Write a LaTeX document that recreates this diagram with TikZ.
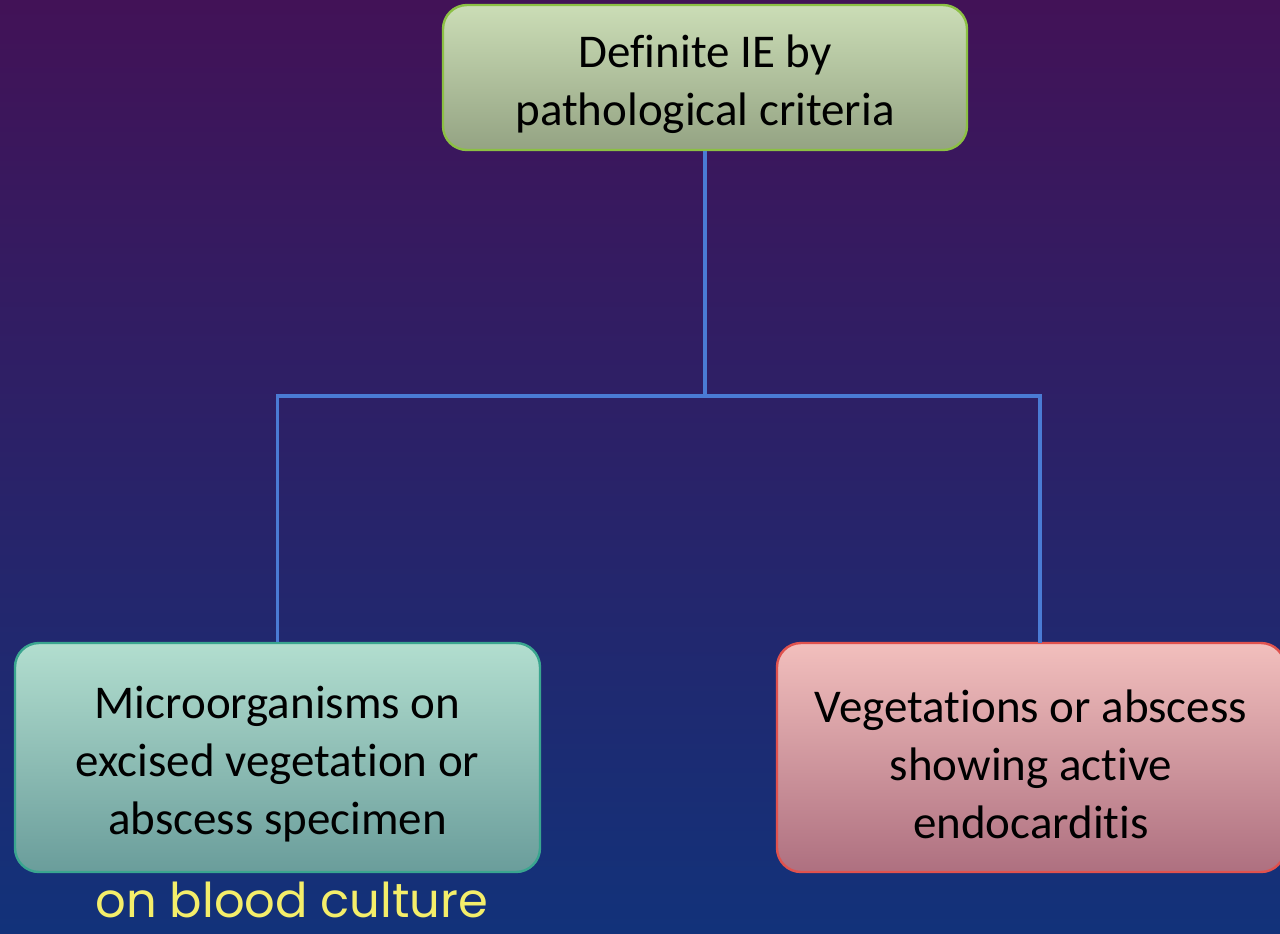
\documentclass[tikz,border=0pt]{standalone}
\usepackage{fontspec}
\setmainfont{Carlito}[Ligatures=NoCommon]
\newfontfamily\handfont{Poppins}
\newcommand\firstline{\rule{0pt}{23pt}}
\definecolor{bgtop}{HTML}{421257}
\definecolor{bgmid}{HTML}{30226E}
\definecolor{bgbot}{HTML}{12327A}
\definecolor{linkblue}{HTML}{4A7BD4}
\definecolor{hand}{HTML}{F4EE6A}
\definecolor{gdraw}{HTML}{8CC044}
\definecolor{gtop}{HTML}{CBDDB6}
\definecolor{gbot}{HTML}{94A383}
\definecolor{tdraw}{HTML}{3AA58F}
\definecolor{ttop}{HTML}{B2DECF}
\definecolor{tbot}{HTML}{6A9D9B}
\definecolor{rdraw}{HTML}{E0524E}
\definecolor{rtop}{HTML}{F2BFBD}
\definecolor{rbot}{HTML}{AE7080}
\tikzset{
  box/.style={draw, line width=1.2pt, rounded corners=12pt, align=center, inner sep=0pt,
    font=\fontsize{23.5}{29}\selectfont, text=black},
  greenbox/.style={box, draw=gdraw, top color=gtop, bottom color=gbot,
    minimum width=262pt, minimum height=72.5pt},
  tealbox/.style={box, draw=tdraw, top color=ttop, bottom color=tbot,
    minimum width=262.5pt, minimum height=114.5pt},
  redbox/.style={box, draw=rdraw, top color=rtop, bottom color=rbot,
    minimum width=254pt, minimum height=114.5pt},
  link/.style={draw=linkblue, line width=1.6pt},
  note/.style={text=hand, font=\handfont\fontsize{24}{24}\selectfont, inner sep=0pt},
}
\begin{document}
\begin{tikzpicture}[x=0.5pt, y=-0.5pt]
\useasboundingbox (0,0) rectangle (1280,933);
\shade[top color=bgtop, middle color=bgmid, bottom color=bgbot] (0,0) rectangle (1280,933);
\node[greenbox] (top) at (705,77.5) {\firstline Definite IE by\\pathological criteria};
\node[tealbox] (left) at (277.5,757.5) {\firstline Microorganisms on\\excised vegetation or\\abscess specimen};
\node[redbox] (right) at (1031,757.5) {\firstline Vegetations or abscess\\showing active\\endocarditis};
\coordinate (mid) at (705,396);
\coordinate (rin) at (1040,643);
\draw[link] (top.south) -- (mid);
\draw[link] (left.north) |- (mid) -| (rin);
\node[note] (hw) at (292,900) {on blood culture};
\end{tikzpicture}
\end{document}
